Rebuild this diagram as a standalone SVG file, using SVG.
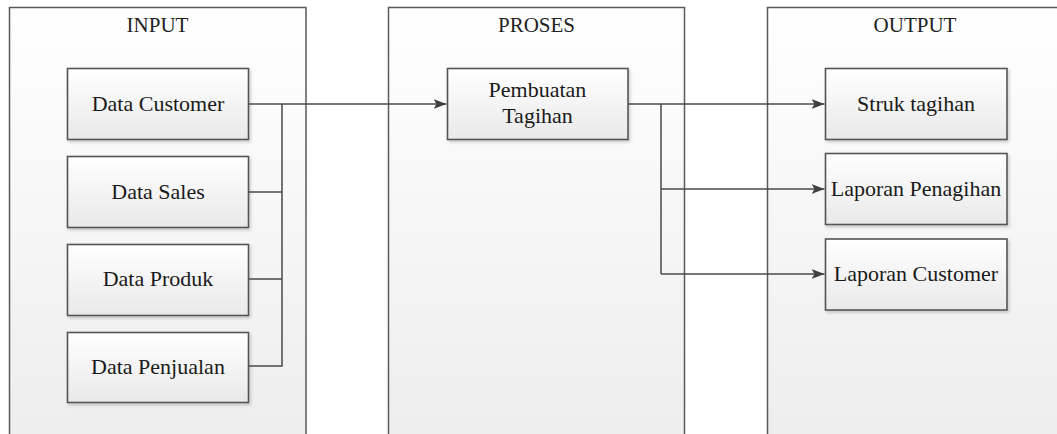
<svg xmlns="http://www.w3.org/2000/svg" width="1057" height="434" viewBox="0 0 1057 434">
  <defs>
    <linearGradient id="laneFill" x1="0" y1="0" x2="0" y2="1">
      <stop offset="0" stop-color="#ffffff"/>
      <stop offset="1" stop-color="#ededed"/>
    </linearGradient>
    <linearGradient id="boxFill" x1="0" y1="0" x2="0" y2="1">
      <stop offset="0" stop-color="#ffffff"/>
      <stop offset="1" stop-color="#e9e9e9"/>
    </linearGradient>
    <filter id="shadow" x="-10%" y="-10%" width="120%" height="130%">
      <feDropShadow dx="1.5" dy="2" stdDeviation="1.5" flood-color="#000" flood-opacity="0.18"/>
    </filter>
    <marker id="arrow" markerUnits="userSpaceOnUse" markerWidth="14" markerHeight="12" refX="13" refY="6" orient="auto">
      <path d="M0,1 L13,6 L0,11 L3,6 Z" fill="#404040"/>
    </marker>
  </defs>
  <style>
    .lane { fill: url(#laneFill); stroke: #5a5a5a; stroke-width: 1.5; }
    .box { fill: url(#boxFill); stroke: #555555; stroke-width: 1.6; filter: url(#shadow); }
    text { font-family: 'Liberation Serif', 'Times New Roman', 'DejaVu Serif', serif; text-anchor: middle; }
    .title { fill: #222; font-size: 21px; }
    .label { fill: #1a1a1a; font-size: 22px; }
    .wire { fill: none; stroke: #4a4a4a; stroke-width: 1.5; }
  </style>

  <rect width="1057" height="434" fill="#ffffff"/>

  <!-- swimlanes -->
  <g id="lane-input">
    <rect class="lane" x="9.5" y="7.5" width="296.5" height="440"/>
    <text class="title" x="157.5" y="32">INPUT</text>
  </g>
  <g id="lane-proses">
    <rect class="lane" x="388.5" y="7.5" width="296" height="440"/>
    <text class="title" x="536.5" y="32">PROSES</text>
  </g>
  <g id="lane-output">
    <rect class="lane" x="767.5" y="7.5" width="296" height="440"/>
    <text class="title" x="915" y="32">OUTPUT</text>
  </g>

  <!-- input nodes -->
  <g id="data-customer">
    <rect class="box" x="67.5" y="68.5" width="181" height="71"/>
    <text class="label" x="158" y="111">Data Customer</text>
  </g>
  <g id="data-sales">
    <rect class="box" x="67.5" y="156.5" width="181" height="71"/>
    <text class="label" x="158" y="199">Data Sales</text>
  </g>
  <g id="data-produk">
    <rect class="box" x="67.5" y="244.5" width="181" height="71"/>
    <text class="label" x="158" y="286">Data Produk</text>
  </g>
  <g id="data-penjualan">
    <rect class="box" x="67.5" y="332.5" width="181" height="70"/>
    <text class="label" x="158" y="374">Data Penjualan</text>
  </g>

  <!-- process node -->
  <g id="pembuatan-tagihan">
    <rect class="box" x="447.5" y="68.5" width="180.5" height="71"/>
    <text class="label" x="537.5" y="97">Pembuatan</text>
    <text class="label" x="537.5" y="123">Tagihan</text>
  </g>

  <!-- output nodes -->
  <g id="struk-tagihan">
    <rect class="box" x="825.5" y="68.5" width="181.5" height="71"/>
    <text class="label" x="916" y="111">Struk tagihan</text>
  </g>
  <g id="laporan-penagihan">
    <rect class="box" x="825.5" y="153.5" width="181.5" height="71"/>
    <text class="label" x="916" y="196">Laporan Penagihan</text>
  </g>
  <g id="laporan-customer">
    <rect class="box" x="825.5" y="239" width="181.5" height="71"/>
    <text class="label" x="916" y="281">Laporan Customer</text>
  </g>

  <!-- connectors -->
  <g id="connectors">
    <path class="wire" d="M248.5,366 H282 V104"/>
    <path class="wire" d="M248.5,192 H282"/>
    <path class="wire" d="M248.5,279 H282"/>
    <path class="wire" d="M248.5,104 H446.5" marker-end="url(#arrow)"/>
    <path class="wire" d="M628,104 H824.5" marker-end="url(#arrow)"/>
    <path class="wire" d="M661,104 V274"/>
    <path class="wire" d="M661,189 H824.5" marker-end="url(#arrow)"/>
    <path class="wire" d="M661,274 H824.5" marker-end="url(#arrow)"/>
  </g>
</svg>
